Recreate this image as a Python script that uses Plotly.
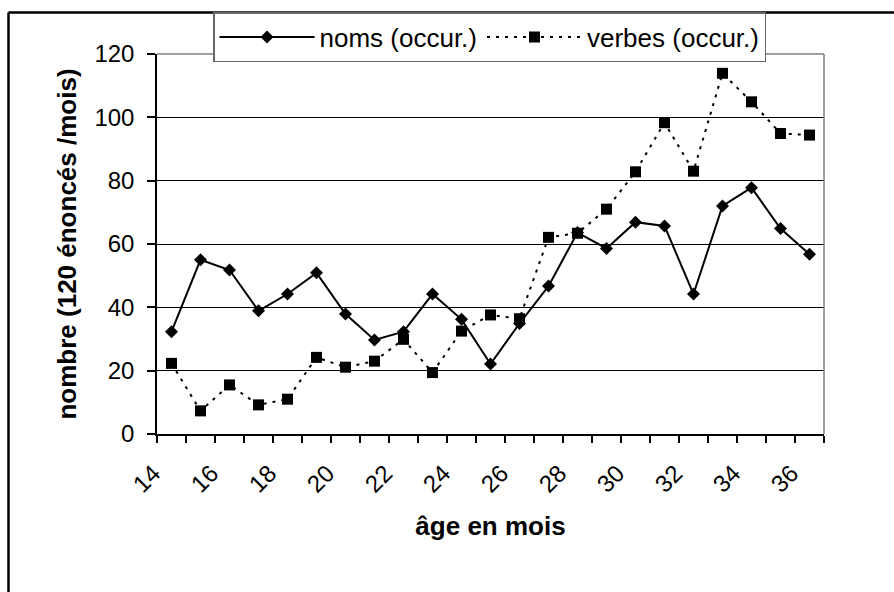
import plotly.graph_objects as go

ages = list(range(14, 37))
noms = [32.3, 55, 51.8, 38.9, 44.2, 50.9, 37.9, 29.7, 32.3, 44.2, 36.2, 22.1,
        34.9, 46.7, 63.6, 58.6, 66.9, 65.7, 44.2, 72, 77.8, 64.9, 56.8]
verbes = [22.3, 7.3, 15.5, 9.2, 11, 24.2, 21.1, 23, 29.9, 19.4, 32.5, 37.6,
          36.4, 62.1, 63.4, 71, 82.8, 98.3, 83, 113.9, 104.9, 94.9, 94.4]
x_tick_vals = list(range(14, 37, 2))
x_tick_text = [str(v) for v in x_tick_vals]
y_tick_vals = [0, 20, 40, 60, 80, 100, 120]

FONT = "Liberation Sans, Arial, sans-serif"

fig = go.Figure()
fig.add_trace(go.Scatter(
    x=ages, y=noms, name="noms (occur.)", mode="lines+markers",
    line=dict(color="black", width=2),
    marker=dict(symbol="diamond", size=10, color="black"),
))
fig.add_trace(go.Scatter(
    x=ages, y=verbes, name="verbes (occur.)", mode="lines+markers",
    line=dict(color="black", width=2, dash="3px,6px"),
    marker=dict(symbol="square", size=11, color="black"),
))

fig.update_layout(
    width=894, height=592,
    margin=dict(l=157, r=70, t=54, b=158, autoexpand=False),
    paper_bgcolor="white", plot_bgcolor="white",
    font=dict(family=FONT, size=24, color="black"),
    showlegend=True,
    legend=dict(
        orientation="h", xref="container", yref="container",
        x=213 / 894, y=1 - 12 / 592, xanchor="left", yanchor="top",
        bgcolor="white", bordercolor="#666666", borderwidth=1.5,
        font=dict(family=FONT, size=26, color="black"),
        itemwidth=95,
    ),
    xaxis=dict(
        range=[13.5, 36.5], tickmode="array", tickvals=x_tick_vals, ticktext=x_tick_text,
        tickangle=-45, ticks="outside", ticklen=6, tickcolor="rgba(0,0,0,0)",
        ticklabelshift=-18, ticklabelstandoff=8,
        showgrid=False, zeroline=False,
        showline=True, linecolor="black", linewidth=1.5,
        minor=dict(tickmode="linear", tick0=13.5, dtick=1, ticks="outside", ticklen=7,
                   tickcolor="black", tickwidth=1.5, showgrid=False),
        tickfont=dict(size=24),
        title=dict(text="<b>âge en mois</b>", font=dict(size=26), standoff=20),
        automargin=False,
    ),
    yaxis=dict(
        range=[0, 120], tickmode="array", tickvals=y_tick_vals,
        ticks="outside", ticklen=8, tickcolor="black", tickwidth=1.5,
        ticklabelstandoff=8,
        showgrid=True, gridcolor="black", gridwidth=1,
        zeroline=False, showline=True, linecolor="black", linewidth=1.5,
        tickfont=dict(size=24),
        title=dict(text="<b>nombre (120 énoncés /mois)</b>", font=dict(size=26), standoff=10),
        automargin=False,
    ),
    shapes=[
        dict(type="line", xref="paper", yref="paper", x0=0, x1=1, y0=1, y1=1,
             line=dict(color="#808080", width=1.5)),
        dict(type="line", xref="paper", yref="paper", x0=1, x1=1, y0=0, y1=1,
             line=dict(color="#808080", width=1.5)),
        dict(type="line", xref="paper", yref="paper",
             x0=(8.5 - 157) / 667, x1=(900 - 157) / 667,
             y0=(434 - 12.5) / 380, y1=(434 - 12.5) / 380,
             line=dict(color="black", width=2.5)),
        dict(type="line", xref="paper", yref="paper",
             x0=(8.5 - 157) / 667, x1=(8.5 - 157) / 667,
             y0=(434 - 12.5) / 380, y1=(434 - 600) / 380,
             line=dict(color="black", width=2.5)),
    ],
)

fig.write_html("out.html", config={"displayModeBar": False},
               post_script="document.body.style.margin='0px';")
